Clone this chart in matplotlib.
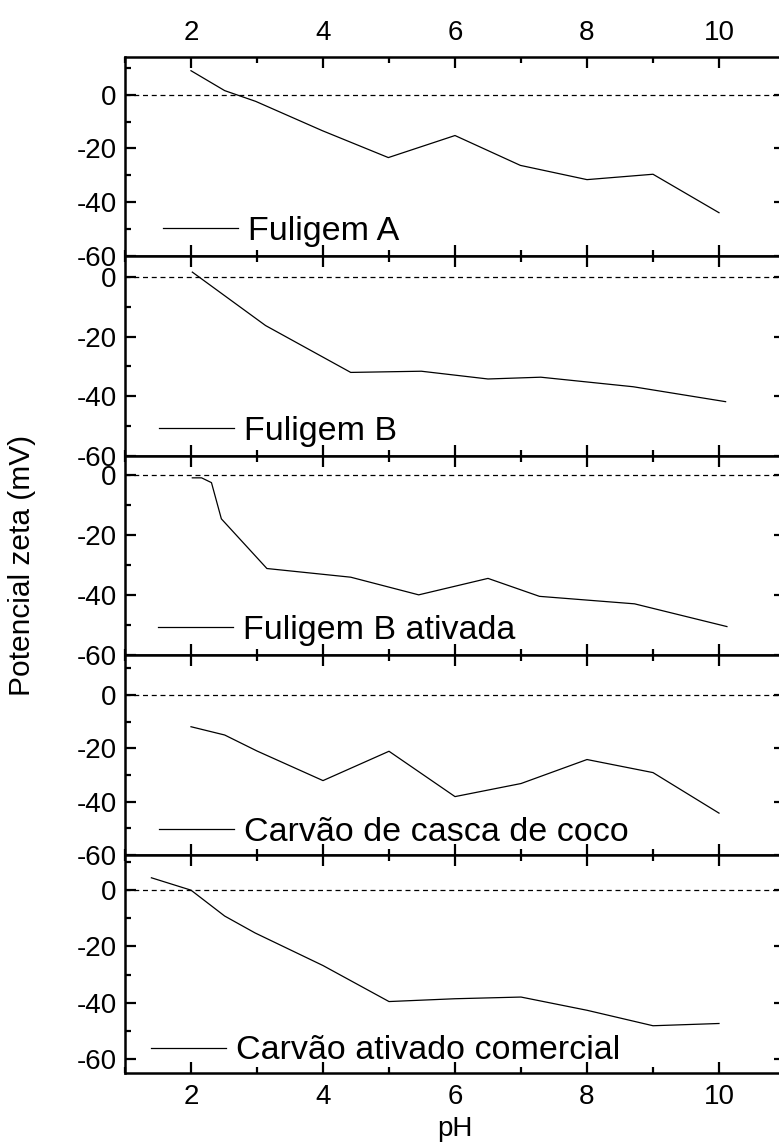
"""
Zeta potential vs pH for five carbon materials, stacked panels.

Output:
    out.png
"""

import matplotlib

matplotlib.use("Agg")
import matplotlib.pyplot as plt
from matplotlib.ticker import MultipleLocator

plt.rcParams["font.family"] = ["Liberation Sans", "DejaVu Sans"]
plt.rcParams["axes.unicode_minus"] = False

# --- data ------------------------------------------------------------------
labels = [
    "Fuligem A",
    "Fuligem B",
    "Fuligem B ativada",
    "Carvão de casca de coco",
    "Carvão ativado comercial",
]

ph_fuligem_a = [2.0, 2.51, 2.98, 3.99, 4.99, 6.0, 6.99, 8.0, 9.0, 10.0]
zeta_fuligem_a = [8.9, 1.5, -2.5, -13.4, -23.4, -15.2, -26.3, -31.6, -29.6, -43.9]

ph_fuligem_b = [2.02, 3.13, 4.42, 5.49, 6.5, 7.3, 8.7, 10.1]
zeta_fuligem_b = [1.6, -16.3, -32.0, -31.6, -34.2, -33.6, -36.8, -41.8]

ph_fuligem_b_at = [2.02, 2.16, 2.31, 2.46, 3.15, 4.42, 5.45, 6.5, 7.28, 8.72, 10.12]
zeta_fuligem_b_at = [-0.8, -0.8, -2.4, -14.5, -31.1, -34.0, -39.9, -34.4, -40.4, -42.9, -50.5]

ph_coco = [2.0, 2.51, 3.0, 4.0, 5.0, 6.0, 7.0, 8.0, 9.0, 10.0]
zeta_coco = [-11.9, -15.0, -21.0, -32.1, -21.1, -38.1, -33.2, -24.2, -29.1, -44.3]

ph_comercial = [1.4, 2.0, 2.51, 2.97, 4.0, 5.0, 6.0, 7.0, 8.0, 9.0, 10.0]
zeta_comercial = [4.4, 0.0, -9.2, -15.2, -26.8, -39.6, -38.6, -38.0, -42.7, -48.2, -47.4]

series = [
    (ph_fuligem_a, zeta_fuligem_a),
    (ph_fuligem_b, zeta_fuligem_b),
    (ph_fuligem_b_at, zeta_fuligem_b_at),
    (ph_coco, zeta_coco),
    (ph_comercial, zeta_comercial),
]

# --- layout ---------------------------------------------------------------
W, H = 779, 1146
panel_edges_px = [57, 256, 456, 655, 855, 1073]
ylims = [(-60, 14), (-60, 7), (-60, 6.5), (-60, 15), (-65, 12.5)]
legend_anchor = [(0.058, 0.045), (0.052, 0.045), (0.050, 0.045), (0.052, 0.035), (0.040, 0.030)]

left_px, right_px = 125, 785

fig = plt.figure(figsize=(W / 100, H / 100), dpi=100)

for i, ((x, y), label) in enumerate(zip(series, labels)):
    top = 1 - panel_edges_px[i] / H
    bottom = 1 - panel_edges_px[i + 1] / H
    ax = fig.add_axes([left_px / W, bottom, (right_px - left_px) / W, top - bottom])

    ax.axhline(0, color="black", lw=0.9, ls=(0, (4, 3)))
    ax.plot(x, y, color="black", lw=0.9, label=label)

    ax.set_xlim(1, 11)
    ax.set_ylim(*ylims[i])
    ax.xaxis.set_major_locator(MultipleLocator(2))
    ax.xaxis.set_minor_locator(MultipleLocator(1))
    ax.yaxis.set_major_locator(MultipleLocator(20))
    ax.yaxis.set_minor_locator(MultipleLocator(10))

    ax.tick_params(which="both", direction="in", top=True, bottom=True,
                   left=True, right=True, width=1.6, labelsize=20, pad=6)
    ax.tick_params(which="major", length=8)
    ax.tick_params(which="minor", length=4.5)
    ax.tick_params(axis="x", labelbottom=(i == 4), labeltop=(i == 0), pad=8)

    for spine in ax.spines.values():
        spine.set_linewidth(1.8)

    ax.legend(loc="lower left", bbox_to_anchor=legend_anchor[i], frameon=False,
              fontsize=24.5, handlelength=2.2, handletextpad=0.3,
              borderpad=0, borderaxespad=0)

    if i == 4:
        ax.set_xlabel("pH", fontsize=20, labelpad=4)

fig.text(22 / W, 1 - 565 / H, "Potencial zeta (mV)", rotation=90,
         ha="center", va="center", fontsize=21.5)

fig.savefig("out.png", dpi=100)
